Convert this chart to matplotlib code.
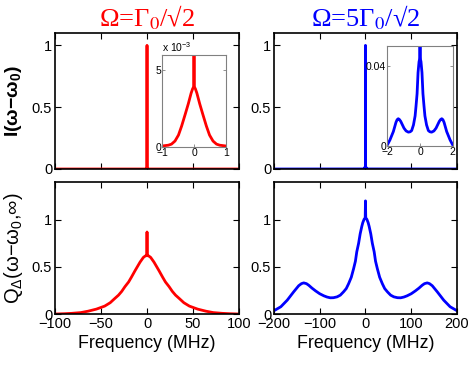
import numpy as np
import matplotlib
matplotlib.use("Agg")
import matplotlib.pyplot as plt
from matplotlib.ticker import FuncFormatter

plt.rcParams['font.family'] = ['Liberation Sans', 'DejaVu Sans']
plt.rcParams['mathtext.fontset'] = 'custom'
plt.rcParams['mathtext.rm'] = 'Liberation Sans'
plt.rcParams['mathtext.it'] = 'Liberation Sans'
plt.rcParams['mathtext.bf'] = 'Liberation Sans:bold'

# ---- data (frequency in MHz) ----
# I(w-w0), weak drive: broad part ~4e-3 plus a delta line at 0
x_i1 = [-100, -1.0, -0.81, -0.71, -0.6, -0.49, -0.39, -0.28, -0.18, -0.09, -0.04, -0.004,
        0, 0.004, 0.04, 0.09, 0.18, 0.28, 0.39, 0.49, 0.6, 0.71, 0.81, 1.0, 100]
y_i1 = [0, 0.00005, 0.0001, 0.00017, 0.00037, 0.00076, 0.00135, 0.0021, 0.0028, 0.0035, 0.0038, 0.0039,
        1.0, 0.0039, 0.0038, 0.0035, 0.0028, 0.0021, 0.00135, 0.00076, 0.00037, 0.00017, 0.0001, 0.00005, 0]

# I(w-w0), strong drive
x_i2 = [-200, -2.0, -1.84, -1.63, -1.47, -1.4, -1.33, -1.26, -1.18, -0.98, -0.85, -0.71, -0.6, -0.51,
        -0.4, -0.3, -0.245, -0.18, -0.12, -0.06, -0.008, 0, 0.008, 0.06, 0.12, 0.18, 0.245, 0.3,
        0.4, 0.51, 0.6, 0.71, 0.85, 0.98, 1.18, 1.26, 1.33, 1.4, 1.47, 1.63, 1.84, 2.0, 200]
y_i2 = [0, 0.0005, 0.003, 0.0072, 0.0118, 0.0131, 0.0136, 0.0132, 0.0123, 0.0089, 0.0075, 0.0069, 0.0071, 0.0077,
        0.0105, 0.015, 0.0198, 0.026, 0.0366, 0.042, 0.044, 1.0, 0.044, 0.042, 0.0366, 0.026, 0.0198, 0.015,
        0.0105, 0.0077, 0.0071, 0.0069, 0.0075, 0.0089, 0.0123, 0.0132, 0.0136, 0.0131, 0.0118, 0.0072, 0.003, 0.0005, 0]

# Q_Delta(w-w0, inf), weak drive
x_q1 = [-100, -90, -82, -72, -64, -55, -46, -40, -35, -31, -27.5, -24, -20, -17, -13, -10, -7.6, -4, -2, -0.3,
        0, 0.3, 2, 4, 7.6, 10, 13, 17, 20, 24, 27.5, 31, 35, 40, 46, 55, 64, 72, 82, 90, 100]
y_q1 = [0, 0.003, 0.007, 0.015, 0.03, 0.052, 0.084, 0.12, 0.165, 0.2, 0.24, 0.29, 0.34, 0.39, 0.46, 0.51, 0.55, 0.6, 0.615, 0.62,
        0.87, 0.62, 0.615, 0.6, 0.55, 0.51, 0.46, 0.39, 0.34, 0.29, 0.24, 0.2, 0.165, 0.12, 0.084, 0.052, 0.03, 0.015, 0.007, 0.003, 0]

# Q_Delta(w-w0, inf), strong drive
x_q2 = [-200, -185, -171, -157, -146, -140, -135, -129, -124, -117, -109, -100, -91, -84, -77, -70, -62, -55,
        -48, -42, -37, -31, -26, -22, -19, -15, -11.6, -8, -5.8, -3, -0.6,
        0, 0.6, 3, 5.8, 8, 11.6, 15, 19, 22, 26, 31, 37, 42, 48,
        55, 62, 70, 77, 84, 91, 100, 109, 117, 124, 129, 135, 140, 146, 157, 171, 185, 200]
y_q2 = [0.035, 0.077, 0.147, 0.235, 0.30, 0.322, 0.33, 0.322, 0.305, 0.275, 0.245, 0.215, 0.193, 0.18, 0.172, 0.173, 0.182, 0.2,
        0.235, 0.27, 0.32, 0.39, 0.48, 0.56, 0.66, 0.75, 0.85, 0.93, 0.97, 1.005, 1.02,
        1.2, 1.02, 1.005, 0.97, 0.93, 0.85, 0.75, 0.66, 0.56, 0.48, 0.39, 0.32, 0.27, 0.235,
        0.2, 0.182, 0.173, 0.172, 0.18, 0.193, 0.215, 0.245, 0.275, 0.305, 0.322, 0.33, 0.322, 0.30, 0.235, 0.147, 0.077, 0.035]

titles = [r'Ω=Γ$_0$/√2', r'Ω=5Γ$_0$/√2']
colors = ['r', 'b']
xticks = [[-100, -50, 0, 50, 100], [-200, -100, 0, 100, 200]]
xlims = [(-100, 100), (-200, 200)]

fig = plt.figure(figsize=(4.71, 3.65), dpi=100)

def style(ax):
    ax.tick_params(direction='in', top=True, right=True, length=4, width=0.8, labelsize=10.5, pad=2)
    for s in ax.spines.values():
        s.set_linewidth(1.2)

top_axes = [fig.add_axes([0.1168, 0.537, 0.3907, 0.3726]), fig.add_axes([0.5817, 0.537, 0.3885, 0.3726])]
bot_axes = [fig.add_axes([0.1168, 0.1397, 0.3907, 0.3616]), fig.add_axes([0.5817, 0.1397, 0.3885, 0.3616])]

for k, (xi, yi, xq, yq) in enumerate([(x_i1, y_i1, x_q1, y_q1), (x_i2, y_i2, x_q2, y_q2)]):
    ax = top_axes[k]
    ax.plot(xi, yi, color=colors[k], lw=2)
    ax.set_xlim(*xlims[k])
    ax.set_ylim(0, 1.1)
    ax.set_xticks(xticks[k])
    ax.set_xticklabels([])
    ax.set_yticks([0, 0.5, 1])
    ax.set_yticklabels(['0', '0.5', '1'])
    style(ax)
    ax.set_title(titles[k], color=colors[k], fontsize=19, family='Liberation Serif',
                 math_fontfamily='stix', pad=5)

    ax = bot_axes[k]
    ax.plot(xq, yq, color=colors[k], lw=2)
    ax.set_xlim(*xlims[k])
    ax.set_ylim(0, 1.4)
    ax.set_xticks(xticks[k])
    ax.set_xticklabels([str(v).replace('-', '\u2212') for v in xticks[k]])
    ax.set_yticks([0, 0.5, 1])
    ax.set_yticklabels(['0', '0.5', '1'])
    style(ax)
    ax.set_xlabel('Frequency (MHz)', fontsize=12.8, labelpad=3)

top_axes[0].set_ylabel(r'I(ω−ω$_\mathbf{0}$)', fontsize=14, fontweight='bold', labelpad=6)
bot_axes[0].set_ylabel(r'Q$_\Delta$(ω−ω$_0$,∞)', fontsize=14.5, labelpad=5)

# insets
ins1 = fig.add_axes([0.3446, 0.598, 0.1346, 0.252])
ins1.plot(x_i1, y_i1, color='r', lw=2)
ins1.set_xlim(-1, 1)
ins1.set_ylim(0, 0.006)
ins1.set_xticks([-1, 0, 1])
ins1.set_xticklabels(['\u22121', '0', '1'])
ins1.set_yticks([0, 0.005])
ins1.yaxis.set_major_formatter(FuncFormatter(lambda v, p: '%g' % round(v * 1e3, 3)))
ins1.text(0, 1.01, r'x 10$^{-3}$', transform=ins1.transAxes, fontsize=7.5, va='bottom', ha='left')

ins2 = fig.add_axes([0.8223, 0.6, 0.1389, 0.2748])
ins2.plot(x_i2, y_i2, color='b', lw=2)
ins2.set_xlim(-2, 2)
ins2.set_ylim(0, 0.05)
ins2.set_xticks([-2, 0, 2])
ins2.set_xticklabels(['\u22122', '0', '2'])
ins2.set_yticks([0, 0.04])
ins2.set_yticklabels(['0', '0.04'])

for ax in (ins1, ins2):
    ax.tick_params(direction='in', top=True, right=True, length=2, width=0.6, labelsize=7.5, pad=1,
                   color='0.5')
    for s in ax.spines.values():
        s.set_color('0.5')
        s.set_linewidth(0.8)

fig.savefig('out.png', dpi=100)
